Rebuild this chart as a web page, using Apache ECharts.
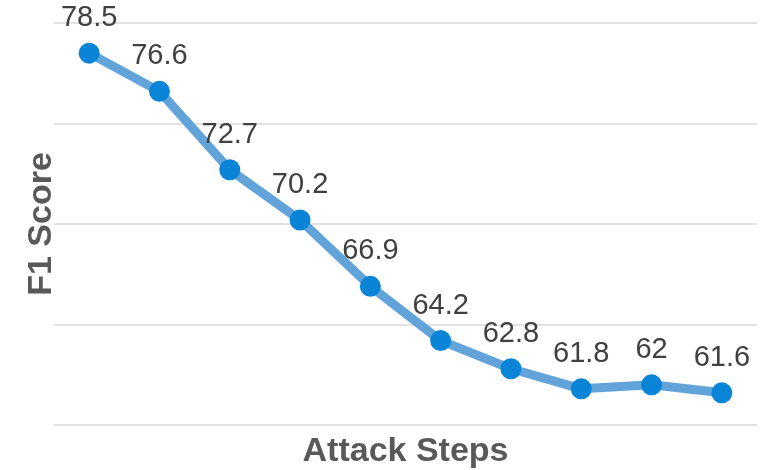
<!DOCTYPE html>
<html>
<head>
<meta charset="utf-8">
<script src="https://cdn.jsdelivr.net/npm/echarts@6/dist/echarts.min.js"></script>
<style>
  html, body { margin: 0; padding: 0; background: #ffffff; }
  #chart { width: 774px; height: 470px; }
</style>
</head>
<body>
<div id="chart"></div>
<script>
// Attack step indices (no tick labels shown on the axis)
const steps = ['1', '2', '3', '4', '5', '6', '7', '8', '9', '10'];
// F1 score after each attack step
const f1Scores = [78.5, 76.6, 72.7, 70.2, 66.9, 64.2, 62.8, 61.8, 62, 61.6];
// Value axis range
const yMin = 60;
const yMax = 80;
const yStep = 5;

const chart = echarts.init(document.getElementById('chart'), null, { renderer: 'canvas' });

chart.setOption({
  backgroundColor: '#ffffff',
  animation: false,
  grid: {
    left: 54, right: 17, top: 23, bottom: 45,
    containLabel: false,
    outerBoundsMode: 'none'
  },
  xAxis: {
    type: 'category',
    data: steps,
    boundaryGap: true,
    name: 'Attack Steps',
    nameLocation: 'middle',
    nameGap: 10,
    nameTextStyle: {
      fontFamily: 'Liberation Sans, Arial, sans-serif',
      fontWeight: 'bold',
      fontSize: 34,
      color: '#595959'
    },
    axisLine: { show: false },
    axisTick: { show: false },
    axisLabel: { show: false }
  },
  yAxis: {
    type: 'value',
    min: yMin,
    max: yMax,
    interval: yStep,
    name: 'F1 Score',
    nameLocation: 'middle',
    nameGap: -5,
    nameTextStyle: {
      fontFamily: 'Liberation Sans, Arial, sans-serif',
      fontWeight: 'bold',
      fontSize: 34,
      color: '#595959'
    },
    axisLine: { show: false },
    axisTick: { show: false },
    axisLabel: { show: false },
    splitLine: { lineStyle: { color: '#d9d9d9', width: 1.5 } }
  },
  series: [{
    type: 'line',
    data: f1Scores,
    symbol: 'circle',
    symbolSize: 21,
    lineStyle: { color: '#62a4da', width: 9 },
    itemStyle: { color: '#0a84d6' },
    label: {
      show: true,
      position: 'top',
      distance: 10,
      fontFamily: 'Liberation Sans, Arial, sans-serif',
      fontSize: 29,
      color: '#404040'
    }
  }]
});
</script>
</body>
</html>
